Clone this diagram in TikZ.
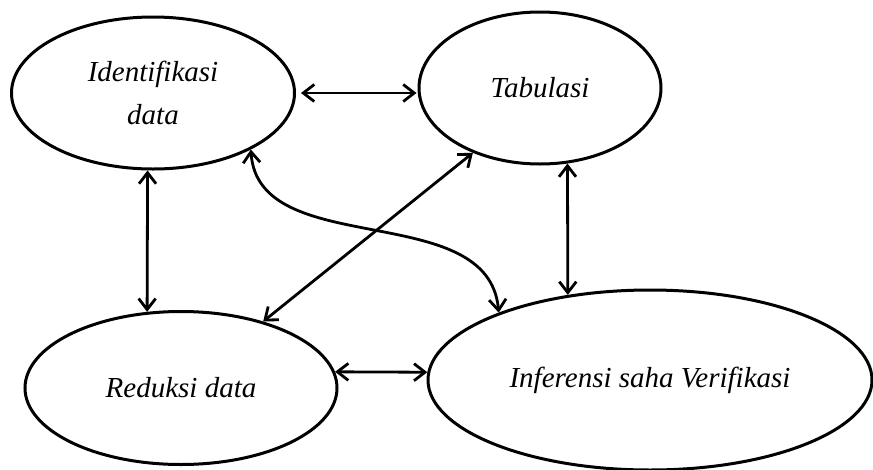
\documentclass[tikz,border=0pt]{standalone}
\usepackage{fontspec}
\setmainfont{Liberation Serif}
\usetikzlibrary{shapes.geometric,arrows.meta}
\begin{document}
\begin{tikzpicture}[x=1pt,y=-1pt,
  stage/.style={draw, ellipse, line width=3pt, inner sep=0pt, align=center,
    font=\fontsize{29}{43}\selectfont\itshape},
  link/.style={line width=2.8pt, {Straight Barb[length=11pt,width=17pt]}-{Straight Barb[length=11pt,width=17pt]}}]
\useasboundingbox (0,0) rectangle (873,469);
\node[stage, minimum width=283pt, minimum height=152pt] (A) at (153,93) {Identifikasi\\data};
\node[stage, minimum width=242pt, minimum height=152pt] (B) at (540,88) {Tabulasi};
\node[stage, minimum width=312pt, minimum height=153pt] (C) at (181,388) {Reduksi data};
\node[stage, minimum width=444pt, minimum height=180pt] (D) at (650,380) {Inferensi saha Verifikasi};
\draw[link] ([xshift=5pt]A.east) -- ([xshift=-1pt]B.west |- A.east);
\draw[link] (A.266) -- (C.114);
\draw[link] (B.290) -- (D.134);
\draw[link] (C.6) -- (D.178);
\draw[link] (B.224) -- (C.39);
\draw[link] (A.330) .. controls +(7,112) and +(-10,-115) .. (D.156);
\end{tikzpicture}
\end{document}
